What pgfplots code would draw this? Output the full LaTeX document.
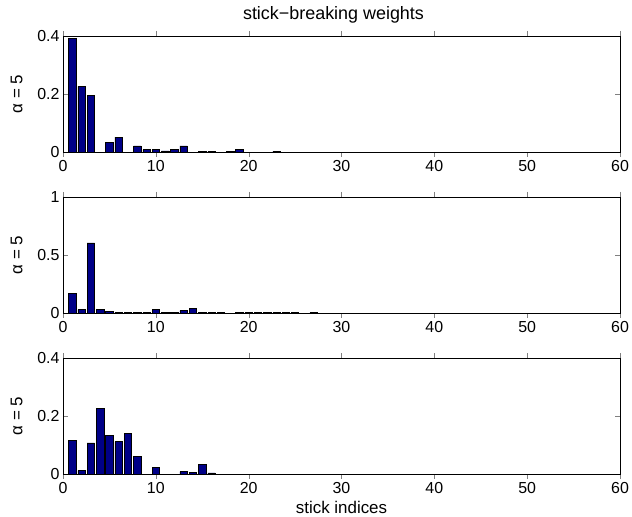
\documentclass[border=0pt]{standalone}
\usepackage{fontspec}
\setmainfont{Liberation Sans}
\usepackage{pgfplots}
\pgfplotsset{compat=1.18}
\definecolor{barblue}{RGB}{0,0,135}
\begin{document}
\begin{tikzpicture}
\useasboundingbox (0,0) rectangle (632bp,517bp);
\pgfplotsset{panel/.style={
  scale only axis, width=557bp, height=116bp,
  xmin=0, xmax=60, xtick={0,10,...,60}, ymin=0,
  tick align=inside, major tick length=5bp,
  ylabel={α = 5},
  ybar, bar width=0.8,
  /pgf/number format/assume math mode=true,
  yticklabel style={/pgf/number format/fixed},
  tick label style={font=\fontsize{16}{18}\selectfont},
  label style={font=\fontsize{17}{19}\selectfont},
  title style={font=\fontsize{18}{20}\selectfont},
  ylabel style={yshift=8bp},
  axis line style={black, line width=0.6pt},
}}
\tikzset{bars/.style={fill=barblue, draw=black, line width=0.6pt}}
\begin{axis}[panel, at={(63bp,365bp)}, anchor=south west, ymax=0.4, ytick={0,0.2,0.4},
  title={stick−breaking weights}, title style={yshift=3bp, xshift=-8bp}]
\addplot[bars] coordinates {(1,0.393) (2,0.226) (3,0.194) (5,0.034) (6,0.051) (8,0.021) (9,0.008) (10,0.008) (11,0.004) (12,0.008) (13,0.021) (15,0.002) (16,0.002) (18,0.003) (19,0.008) (23,0.003)};
\end{axis}
\begin{axis}[panel, at={(63bp,204bp)}, anchor=south west, ymax=1, ytick={0,0.5,1}]
\addplot[bars] coordinates {(1,0.168) (2,0.029) (3,0.604) (4,0.029) (5,0.017) (6,0.005) (7,0.004) (8,0.004) (9,0.004) (10,0.029) (11,0.004) (12,0.004) (13,0.02) (14,0.04) (15,0.004) (16,0.004) (17,0.004) (19,0.003) (20,0.003) (21,0.003) (22,0.003) (23,0.003) (24,0.003) (25,0.003) (27,0.004)};
\end{axis}
\begin{axis}[panel, at={(63bp,43bp)}, anchor=south west, ymax=0.4, ytick={0,0.2,0.4},
  xlabel={stick indices}, xlabel style={yshift=-1bp}]
\addplot[bars] coordinates {(1,0.115) (2,0.012) (3,0.107) (4,0.225) (5,0.134) (6,0.112) (7,0.141) (8,0.062) (10,0.024) (13,0.008) (14,0.005) (15,0.033) (16,0.004)};
\end{axis}
\end{tikzpicture}
\end{document}
